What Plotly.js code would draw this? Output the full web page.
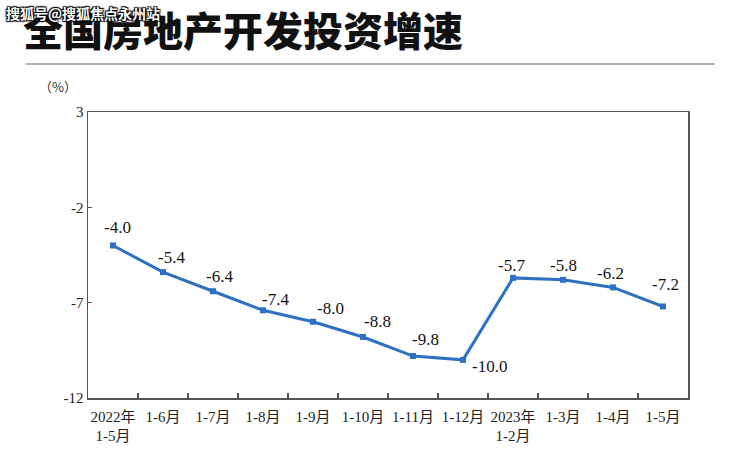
<!DOCTYPE html>
<html><head><meta charset="utf-8">
<script src="https://cdn.plot.ly/plotly-3.0.1.min.js"></script>
<style>html,body{margin:0;padding:0;background:#fff;}</style>
</head><body>
<div id="chart" style="width:740px;height:474px;"></div>
<script>
var categories = ["2022年<br>1-5月","1-6月","1-7月","1-8月","1-9月","1-10月","1-11月","1-12月","2023年<br>1-2月","1-3月","1-4月","1-5月"];
var growth = [-4.0,-5.4,-6.4,-7.4,-8.0,-8.8,-9.8,-10.0,-5.7,-5.8,-6.2,-7.2];
var labelDx = [4,8,6,12,17,14,12,26,-2,0,-3,2];
var labelDy = [18,15,15,11,13,15,17,-7,12,14,14,22];
var yTicks = [3,-2,-7,-12];

var idx = categories.map(function(_,i){return i;});
var serif = "'Liberation Serif','Times New Roman','Noto Sans CJK SC',serif";

var trace = {
  x: idx, y: growth, type: 'scatter', mode: 'lines+markers',
  line: {color: '#2e71c2', width: 3},
  marker: {symbol: 'square', size: 6, color: '#2e71c2'},
  hoverinfo: 'skip'
};

var annotations = growth.map(function(v,i){
  return {x: i, y: v, xref: 'x', yref: 'y', text: v.toFixed(1), showarrow: false,
    xshift: labelDx[i], yshift: labelDy[i],
    font: {family: serif, size: 17, color: '#111'}};
});
annotations.push({xref:'paper', yref:'paper', x:(58-88)/600, y:1 + (112-87)/286, xanchor:'center', yanchor:'middle',
  text:'（%）', showarrow:false, font:{family:"'Noto Sans CJK SC',sans-serif", size:13, color:'#333'}});
annotations.push({xref:'paper', yref:'paper', x:(4-88)/600, y:1 + (112-13)/286, xanchor:'left', yanchor:'middle',
  text:'搜狐号@搜狐焦点永州站', showarrow:false,
  font:{family:"'Noto Sans CJK SC',sans-serif", size:14, color:'#ffffff', weight:'bold',
    shadow:'1px 1px 1px #000, -1px -1px 1px #000, 1px -1px 1px #000, -1px 1px 1px #000'}});

var layout = {
  width: 740, height: 474,
  margin: {l: 88, r: 52, t: 112, b: 76},
  paper_bgcolor: '#fff', plot_bgcolor: '#fff',
  showlegend: false,
  title: {text: '全国房地产开发投资增速', xref: 'container', yref: 'container',
    x: 23/740, xanchor: 'left', y: 1 - 32/474, yanchor: 'middle',
    font: {family: "'Noto Sans CJK SC',sans-serif", size: 40, color: '#111', weight: 900}},
  xaxis: {range: [-0.5, 11.5], tickmode: 'array', tickvals: idx, ticktext: categories,
    showgrid: false, zeroline: false, showline: true, mirror: true,
    linecolor: '#555', linewidth: 1.5, ticks: '', ticklabelstandoff: 4,
    tickfont: {family: serif, size: 15, color: '#222'}, fixedrange: true},
  xaxis2: {overlaying: 'x', range: [-0.5, 11.5], tickmode: 'array',
    tickvals: idx.slice(1).map(function(i){return i-0.5;}), ticktext: idx.slice(1).map(function(){return '';}),
    ticks: 'inside', ticklen: 5, tickcolor: '#555', tickwidth: 1.2, showgrid: false,
    zeroline: false, showline: false, anchor: 'y'},
  yaxis: {range: [-12, 3], tickmode: 'array', tickvals: yTicks, ticktext: yTicks.map(String),
    showgrid: false, zeroline: false, showline: true, mirror: true,
    linecolor: '#555', linewidth: 1.5, ticks: 'inside', ticklen: 4, tickcolor: '#555',
    tickfont: {family: serif, size: 15, color: '#222'}, fixedrange: true},
  shapes: [{type: 'line', xref: 'paper', yref: 'paper', x0: (26-88)/600, x1: (715-88)/600,
    y0: 1 + (112-64)/286, y1: 1 + (112-64)/286, line: {color: '#999', width: 1.5}}],
  annotations: annotations
};

var tickTrace = {x: [0], y: [null], xaxis: 'x2', yaxis: 'y', type: 'scatter', mode: 'markers', hoverinfo: 'skip'};

Plotly.newPlot('chart', [trace, tickTrace], layout, {displayModeBar: false, staticPlot: true});
</script>
</body></html>
